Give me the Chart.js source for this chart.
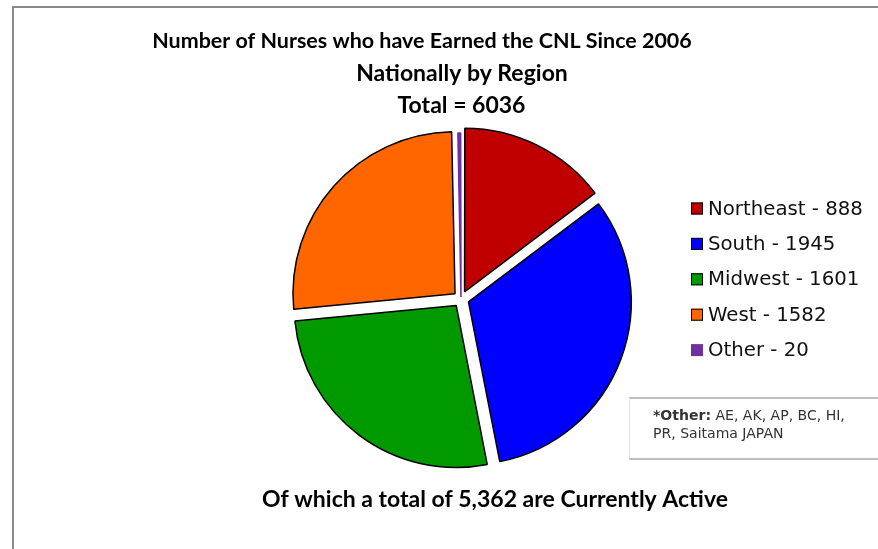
<!DOCTYPE html>
<html>
<head>
<meta charset="utf-8">
<script src="https://cdn.jsdelivr.net/npm/chart.js@4.4.0/dist/chart.umd.min.js"></script>
<style>
  html, body { margin: 0; padding: 0; background: #fff; }
  #wrap { position: relative; width: 878px; height: 549px; }
</style>
</head>
<body>
<div id="wrap"><canvas id="myChart"></canvas></div>
<script>
// Data
const regions = ['Northeast', 'South', 'Midwest', 'West', 'Other'];
const nurses = [888, 1945, 1601, 1582, 20];
const sliceColors = ['#C00000', '#0000FF', '#009900', '#FF6600', '#7030A0'];
const titleLines = ['Number of Nurses who have Earned the CNL Since 2006', 'Nationally by Region'];
const footText = 'Of which a total of 5,362 are Currently Active';
const noteLabel = '*Other:';
const noteLines = [' AE, AK, AP, BC, HI,', 'PR, Saitama JAPAN'];

const total = nurses.reduce((sum, v) => sum + v, 0);

// font size that makes text fill a given width
function fitSize(ctx, text, font, width) {
  ctx.font = font(100);
  return 100 * width / ctx.measureText(text).width;
}

const decor = {
  id: 'decor',
  afterDraw(chart) {
    const ctx = chart.ctx;
    ctx.save();

    // frame (top + left only)
    ctx.strokeStyle = '#8a8a8a';
    ctx.lineWidth = 2;
    ctx.beginPath();
    ctx.moveTo(13, 549);
    ctx.lineTo(13, 7);
    ctx.lineTo(878, 7);
    ctx.stroke();

    // titles: [text, centre x, baseline y, width]
    const bold = s => `bold ${s}px Lato`;
    const heads = [
      [titleLines[0], 422, 48, 540],
      [titleLines[1], 462, 80.5, 224],
      [`Total = ${total}`, 461.5, 113, 132],
      [footText, 495, 507, 498]
    ];
    ctx.fillStyle = '#000';
    ctx.textAlign = 'center';
    ctx.textBaseline = 'alphabetic';
    heads.forEach(([t, x, y, w]) => {
      ctx.font = bold(Math.min(fitSize(ctx, t, bold, w), 23));
      ctx.fillText(t, x, y);
    });

    // legend
    const legFont = s => `${s}px "DejaVu Sans"`;
    const ls = fitSize(ctx, `${regions[0]} - ${nurses[0]}`, legFont, 155);
    ctx.font = legFont(ls);
    ctx.textAlign = 'left';
    ctx.textBaseline = 'middle';
    regions.forEach((r, i) => {
      const y = 208.5 + i * 35.4;
      ctx.fillStyle = sliceColors[i];
      ctx.fillRect(691, y - 6, 12, 12);
      if (i < 4) {
        ctx.strokeStyle = '#000';
        ctx.lineWidth = 1;
        ctx.strokeRect(691.5, y - 5.5, 11, 11);
      }
      ctx.fillStyle = '#111';
      ctx.fillText(`${r} - ${nurses[i]}`, 708, y + 1);
    });

    // note box
    ctx.strokeStyle = '#bfbfbf';
    ctx.lineWidth = 2;
    ctx.beginPath();
    ctx.moveTo(629, 398); ctx.lineTo(878, 398);
    ctx.moveTo(629, 459); ctx.lineTo(878, 459);
    ctx.stroke();
    ctx.strokeStyle = '#e4e4e4';
    ctx.lineWidth = 1;
    ctx.beginPath();
    ctx.moveTo(629.5, 398); ctx.lineTo(629.5, 459);
    ctx.stroke();

    const nb = s => `bold ${s}px "DejaVu Sans"`;
    const nn = s => `${s}px "DejaVu Sans"`;
    ctx.font = nb(100);
    const w1 = ctx.measureText(noteLabel).width;
    ctx.font = nn(100);
    const w2 = ctx.measureText(noteLines[0]).width;
    const ns = 100 * 192 / (w1 + w2);
    ctx.textBaseline = 'alphabetic';
    ctx.fillStyle = '#333';
    ctx.font = nb(ns);
    ctx.fillText(noteLabel, 653, 420);
    const lw = ctx.measureText(noteLabel).width;
    ctx.font = nn(ns);
    ctx.fillText(noteLines[0], 653 + lw, 420);
    ctx.fillText(noteLines[1], 653, 438);

    ctx.restore();
  }
};

const ctx = document.getElementById('myChart').getContext('2d');
const myChart = new Chart(ctx, {
  type: 'pie',
  data: {
    labels: regions,
    datasets: [{
      data: nurses,
      backgroundColor: sliceColors,
      borderColor: ['#000', '#000', '#000', '#000', '#7030A0'],
      borderWidth: 1.5,
      // Chart.js v4 draws arcs shifted by offset / 4
      offset: [32, 32, 32, 32, 8]
    }]
  },
  options: {
    responsive: true,
    maintainAspectRatio: false,
    animation: false,
    layout: {
      padding: { left: 282.25, right: 238.25, top: 120.25, bottom: 71.25 }
    },
    plugins: {
      legend: { display: false },
      title: { display: false },
      tooltip: { enabled: false }
    }
  },
  plugins: [decor]
});
</script>
</body>
</html>
